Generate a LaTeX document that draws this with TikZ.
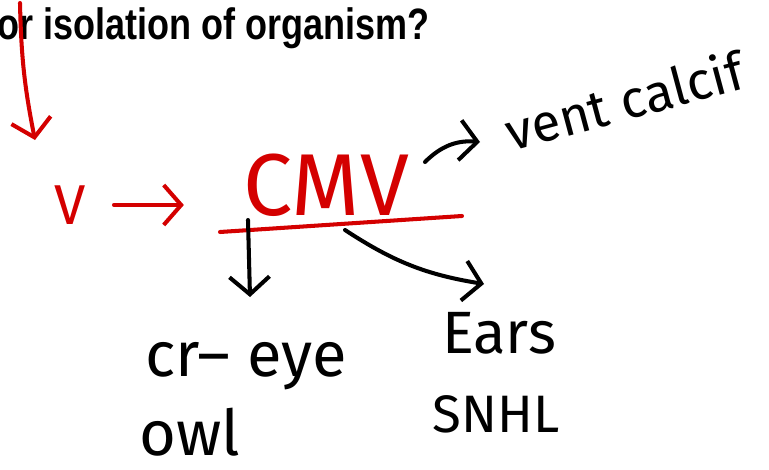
\documentclass[tikz,border=0pt]{standalone}
\usepackage{fontspec}
\setmainfont{Liberation Sans}
\setsansfont{Fira Sans}
\newfontfamily\titulofonte{Liberation Sans Bold}[FakeStretch=0.82]
\usepackage{xcolor}
\usetikzlibrary{arrows.meta}
\definecolor{tintaVermelha}{HTML}{D40000}
\tikzset{
    manuscrito/.style={
        inner sep=0pt,
        font=\sffamily\fontsize{36}{36}\selectfont
    },
    titulo/.style={inner sep=0pt, font=\titulofonte\fontsize{25}{25}\selectfont},
    traco/.style={line width=2.3pt, line cap=round, line join=round},
    seta/.style={traco, -{Straight Barb[length=3.5mm,width=8mm]}},
    setaVermelha/.style={seta, draw=tintaVermelha},
    palavraVermelha/.style={manuscrito, text=tintaVermelha}
}

\begin{document}
\begin{tikzpicture}[x=0.02cm, y=-0.02cm]
    \useasboundingbox (0,0) rectangle (769,470);

    \node[titulo, anchor=base west] (pergunta) at (-3,39)
    {or isolation of organism?};

    \node[palavraVermelha, font=\sffamily\fontsize{32}{32}\selectfont] (virus) at (70,205) {V};
    \node[palavraVermelha, font=\sffamily\fontsize{50}{50}\selectfont] (cmv) at (326,185) {CMV};

    \node[manuscrito, rotate=15, font=\sffamily\fontsize{30}{30}\selectfont] (ventricular) at (624,100)
    {vent calcif};

    \node[manuscrito] (olho) at (246,366) {cr-- eye};
    \node[manuscrito] (coruja) at (190,432) {owl};
    \node[manuscrito, font=\sffamily\fontsize{34}{34}\selectfont] (ouvido) at (499,333) {Ears};
    \node[manuscrito, font=\sffamily\fontsize{30}{30}\selectfont] (surdez) at (496,414) {SNHL};

    \coordinate (topo) at (20,3);
    \coordinate (fimTopo) at (35,140);
    \coordinate (sublinhaA) at (220,232);
    \coordinate (sublinhaB) at (462,216);
    \coordinate (ramoOlho) at (248,220);
    \coordinate (fimOlho) at (250,297);
    \coordinate (ramoOuvido) at (345,230);
    \coordinate (fimOuvido) at (484,284);
    \coordinate (ramoVent) at (425,162);
    \coordinate (fimVent) at (480,142);

    \draw[setaVermelha] (topo) to[bend right=5] (fimTopo);
    \draw[setaVermelha, shorten <=0.56cm, shorten >=1.18cm] (virus.east) -- (virus.east -| cmv.west);
    \draw[traco, tintaVermelha] (sublinhaA) -- (sublinhaB);

    \draw[seta] (ramoOlho) -- (fimOlho);
    \draw[seta] (ramoOuvido) to[bend right=12] (fimOuvido);
    \draw[seta] (ramoVent) to[bend left=25] (fimVent);

\end{tikzpicture}
\end{document}
